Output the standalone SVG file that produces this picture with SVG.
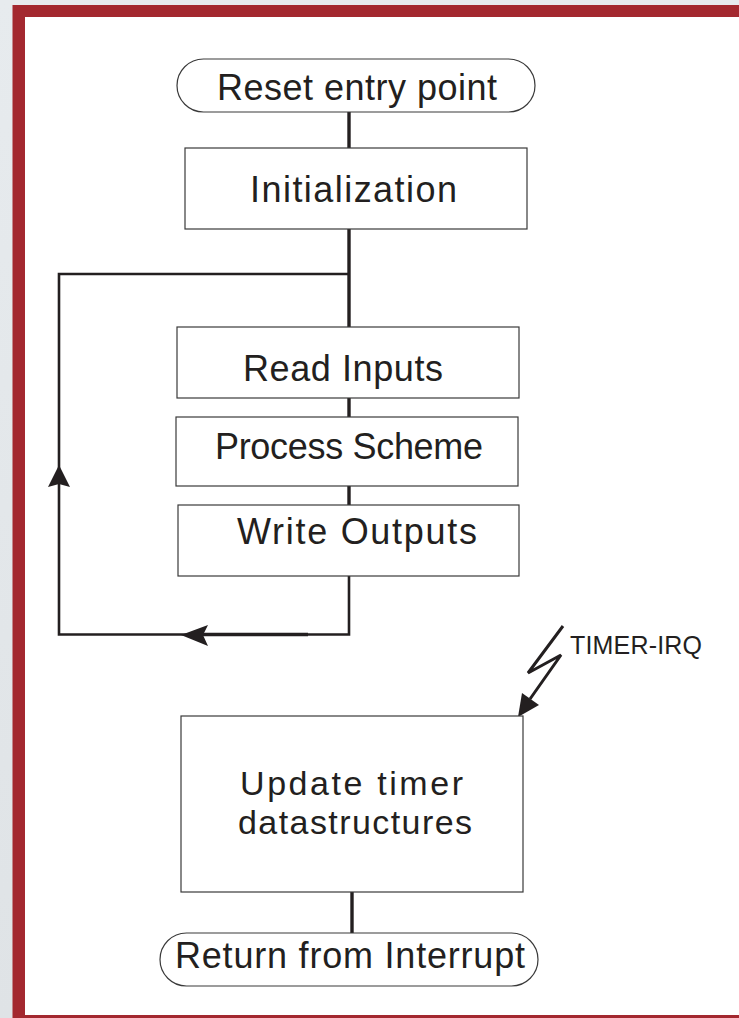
<svg xmlns="http://www.w3.org/2000/svg" width="739" height="1018" viewBox="0 0 739 1018">
<defs>
<linearGradient id="bg" x1="0" y1="0" x2="0" y2="1">
<stop offset="0" stop-color="#e7ebee"/>
<stop offset="1" stop-color="#dfe3e6"/>
</linearGradient>
</defs>
<style>
.box{fill:#ffffff;stroke:#3a3a3a;stroke-width:1.2}
.t{font-family:"Liberation Sans",Arial,sans-serif;font-size:36px;fill:#231f20}
.small{font-size:25px}
.mid{font-size:34px}
.ln{stroke:#231f20;fill:none;stroke-linecap:butt;stroke-linejoin:miter}
.main{stroke-width:3.4}
.loop{stroke-width:2.6}
.head{fill:#231f20;stroke:none}
</style>
<rect x="0" y="0" width="739" height="1018" fill="url(#bg)"/>
<rect x="12.5" y="5" width="740" height="1020" fill="#a3282f"/>
<rect x="25" y="17" width="720" height="998" fill="#ffffff"/>

<g id="connectors">
<line class="ln main" x1="349" y1="112" x2="349" y2="148"/>
<line class="ln main" x1="349" y1="229" x2="349" y2="328"/>
<line class="ln main" x1="349" y1="398" x2="349" y2="417"/>
<line class="ln main" x1="349" y1="486" x2="349" y2="505"/>
<polyline class="ln loop" points="349,576 349,634.5 59,634.5 59,274 349,274"/>
<line class="ln" stroke-width="3.6" x1="190" y1="634.5" x2="308" y2="634.5"/>
<polygon class="head" points="59,465 48,487 59,484 70,487"/>
<polygon class="head" points="181,635 208,625 203,635 208,646"/>
<line class="ln main" x1="352" y1="892" x2="352" y2="933"/>
<polyline class="ln" stroke-width="3" points="563,626 528,673 561,655 530,699"/>
<polygon class="head" points="518,717 522,693 539,705"/>
</g>

<g id="reset">
<rect class="box" x="177" y="59" width="358" height="53" rx="26.5"/>
<text class="t" x="217" y="100" textLength="280">Reset entry point</text>
</g>
<g id="init">
<rect class="box" x="185" y="148" width="342" height="81"/>
<text class="t" x="250" y="202" textLength="207">Initialization</text>
</g>
<g id="read">
<rect class="box" x="177" y="327" width="342" height="71"/>
<text class="t" x="243" y="381" textLength="200">Read Inputs</text>
</g>
<g id="process">
<rect class="box" x="176" y="417" width="342" height="69"/>
<text class="t" x="215" y="459" textLength="268">Process Scheme</text>
</g>
<g id="write">
<rect class="box" x="178" y="505" width="341" height="71"/>
<text class="t" x="237" y="544" textLength="240">Write Outputs</text>
</g>
<g id="irq">
<text class="t small" x="570" y="654" textLength="132">TIMER-IRQ</text>
</g>
<g id="update">
<rect class="box" x="181" y="716" width="342" height="176"/>
<text class="t mid" x="240" y="795" textLength="223">Update timer</text>
<text class="t mid" x="238" y="834" textLength="234">datastructures</text>
</g>
<g id="return">
<rect class="box" x="160" y="933" width="378" height="53" rx="26.5"/>
<text class="t" x="175" y="968" textLength="350">Return from Interrupt</text>
</g>
</svg>
